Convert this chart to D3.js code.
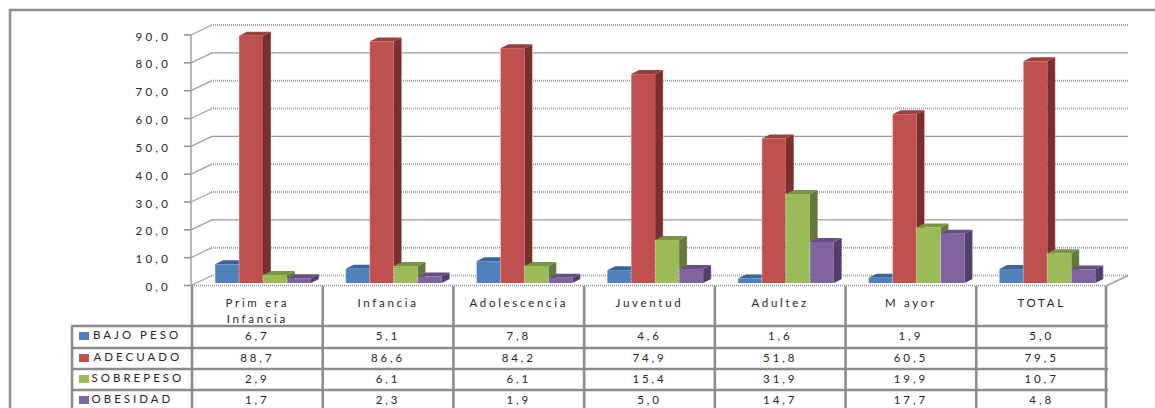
<!DOCTYPE html>
<html><head><meta charset="utf-8">
<script src="https://cdn.jsdelivr.net/npm/d3@7"></script>
<style>
html,body{margin:0;padding:0;background:#fff;overflow:hidden}
text{font-family:Lato,"Open Sans",sans-serif;fill:#262626;font-size:11.5px}
</style></head><body>
<svg id="c" width="1155" height="408"></svg>
<script>
const categories=[["Prim era","Infancia"],["Infancia"],["Adolescencia"],["Juventud"],["Adultez"],["M ayor"],["TOTAL"]];
const seriesNames=["BAJO PESO","ADECUADO","SOBREPESO","OBESIDAD"];
const bajoPeso=[6.7,5.1,7.8,4.6,1.6,1.9,5.0];
const adecuado=[88.7,86.6,84.2,74.9,51.8,60.5,79.5];
const sobrepeso=[2.9,6.1,6.1,15.4,31.9,19.9,10.7];
const obesidad=[1.7,2.3,1.9,5.0,14.7,17.7,4.8];
const seriesValues=[bajoPeso,adecuado,sobrepeso,obesidad];
const colors=["#4F81BD","#C0504D","#9BBB59","#8064A2"];
const sideColors=["#2F5280","#7A2F2D","#64793A","#533F6E"];
const topColors=["#3A659B","#97403D","#7A9446","#654F85"];
const ticks=d3.range(0,100,10);
const solidTicks=[20,50,80];
const fmt=v=>d3.format(".1f")(v).replace(".",",");

const svg=d3.select("#c");
const GRID="#a0a0a0",TBL="#8c8c8c";
const x=d3.scaleBand().domain(d3.range(7)).range([192,1107]);
const inner=d3.scaleBand().domain(d3.range(4)).range([23,119]);
const y=d3.scaleLinear().domain([0,90]).range([285.5,35]);
const ybar=d3.scaleLinear().domain([0,90]).range([283,32]);
const dx=20,dy=-10,bx=8,by=-4;

// frame
svg.append("path").attr("d","M1155,10H10V408").attr("fill","none").attr("stroke","#8f8f8f").attr("stroke-width",2.5);

// gridlines on back wall
ticks.forEach(t=>{
  const solid=solidTicks.includes(t);
  svg.append("line").attr("x1",192+dx-1).attr("x2",1107+dx+1).attr("y1",y(t)+dy).attr("y2",y(t)+dy)
    .attr("stroke",solid?"#999":GRID).attr("stroke-width",solid?1.3:2).attr("stroke-dasharray",solid?null:"1 1");
  svg.append("line").attr("x1",191).attr("x2",192+dx).attr("y1",y(t)).attr("y2",y(t)+dy).attr("stroke",GRID).attr("stroke-width",1.2);
  svg.append("line").attr("x1",184).attr("x2",191).attr("y1",y(t)).attr("y2",y(t)).attr("stroke",TBL).attr("stroke-width",1.5);
  svg.append("text").attr("x",171).attr("y",y(t)+5.5).attr("text-anchor","end").attr("letter-spacing","3.2px").text(fmt(t));
});
svg.append("line").attr("x1",191).attr("x2",191).attr("y1",y(90)).attr("y2",y(0)).attr("stroke",GRID).attr("stroke-width",1.5);
svg.append("line").attr("x1",1107).attr("x2",1107+dx+1).attr("y1",y(0)).attr("y2",y(0)+dy).attr("stroke",GRID).attr("stroke-width",1.5);

// bars
categories.forEach((c,i)=>{
  seriesValues.forEach((vals,s)=>{
    const x0=x(i)+inner(s),w=inner.bandwidth(),yT=ybar(vals[i]),yB=ybar(0);
    const g=svg.append("g");
    g.append("path").attr("d",`M${x0+w},${yT}l${bx},${by}V${yB+by}l${-bx},${-by}Z`).attr("fill",sideColors[s]);
    g.append("path").attr("d",`M${x0},${yT}l${bx},${by}h${w}l${-bx},${-by}Z`).attr("fill",topColors[s]);
    g.append("rect").attr("x",x0).attr("y",yT).attr("width",w).attr("height",yB-yT).attr("fill",colors[s]);
    // serrated pale edges of the picture
    g.append("path").attr("d",`M${x0},${yT}V${yB}M${x0+w+bx},${yT+by}V${yB+by}`)
      .attr("fill","none").attr("stroke","#fff").attr("stroke-width",1).attr("stroke-dasharray","1 1").attr("opacity",0.7);
  });
});

// table
const rowY=[286,326,348,369,390,412];
const colX=x.domain().map(x).concat([1106]);
const line=(a,b,c,d,w)=>svg.append("line").attr("x1",a).attr("y1",b).attr("x2",c).attr("y2",d).attr("stroke",TBL).attr("stroke-width",w||2.6);
svg.append("line").attr("x1",192).attr("x2",1107).attr("y1",285.5).attr("y2",285.5).attr("stroke","#8c8c8c").attr("stroke-width",1.5).attr("stroke-dasharray","1 1");
rowY.slice(1).forEach(r=>line(71,r,1108,r));
line(72,326,72,408);
colX.forEach(cx=>line(cx,286,cx,408));

categories.forEach((c,i)=>{
  const cx=x(i)+x.bandwidth()/2;
  c.forEach((ln,k)=>svg.append("text").attr("x",cx).attr("y",307+k*16).attr("text-anchor","middle").attr("letter-spacing","2.7px").text(ln));
  seriesValues.forEach((vals,s)=>svg.append("text").attr("x",cx).attr("y",rowY[s+1]+14).attr("text-anchor","middle").attr("letter-spacing","2.9px").text(fmt(vals[i])));
});
const labelX=[93,93.5,91.5,91.5];
seriesNames.forEach((n,s)=>{
  svg.append("rect").attr("x",79).attr("y",rowY[s+1]+6).attr("width",10).attr("height",8).attr("fill",colors[s]);
  svg.append("text").attr("x",labelX[s]).attr("y",rowY[s+1]+13).attr("letter-spacing","3px").text(n);
});
</script></body></html>
